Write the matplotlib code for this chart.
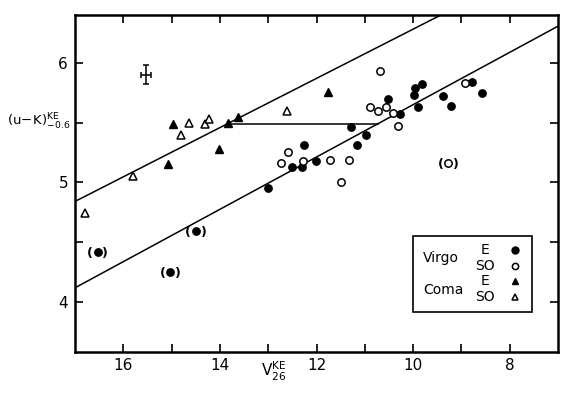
import matplotlib
matplotlib.use("Agg")
import matplotlib.pyplot as plt
import numpy as np
from matplotlib.patches import Rectangle

plt.rcParams["font.family"] = ["DejaVu Sans"]
plt.rcParams["mathtext.default"] = "regular"

# Virgo ellipticals (filled circles)
virgo_e_v = [13.00, 12.51, 12.31, 12.25, 12.01, 11.29, 10.98, 11.16, 10.53,
             10.28, 9.97, 9.98, 9.81, 9.89, 9.39, 9.22, 8.78, 8.57]
virgo_e_c = [4.95, 5.13, 5.13, 5.31, 5.18, 5.46, 5.40, 5.31, 5.70,
             5.57, 5.79, 5.73, 5.82, 5.63, 5.72, 5.64, 5.84, 5.75]
# uncertain Virgo E, shown in parentheses
virgo_e_unc_v = [16.53, 14.50, 15.03]
virgo_e_unc_c = [4.42, 4.59, 4.25]

# Virgo S0 (open circles)
virgo_s0_v = [12.59, 12.73, 12.27, 11.73, 11.33, 11.49, 10.69, 10.89, 10.73,
              10.56, 10.41, 10.31, 8.93]
virgo_s0_c = [5.25, 5.16, 5.18, 5.19, 5.19, 5.00, 5.93, 5.63, 5.60,
              5.63, 5.58, 5.47, 5.83]
virgo_s0_unc_v = [9.27]
virgo_s0_unc_c = [5.16]

# Coma ellipticals (filled triangles) and S0 (open triangles)
coma_e_v = [11.76, 14.97, 13.83, 13.63, 14.01, 15.07]
coma_e_c = [5.76, 5.49, 5.50, 5.55, 5.28, 5.15]
coma_s0_v = [12.62, 14.63, 14.81, 14.30, 14.23, 15.80, 16.80]
coma_s0_c = [5.60, 5.50, 5.40, 5.49, 5.53, 5.05, 4.74]

# fitted relations  c = a + b * V
upper_a, upper_b = 8.342, -0.206
lower_a, lower_b = 7.840, -0.219
shift_c = 5.49  # horizontal connector between the two relations

# typical error bar
err_v, err_c = 15.53, 5.90
err_dv, err_dc = 0.11, 0.08

fig = plt.figure(figsize=(5.7, 3.95), dpi=100)
ax = fig.add_axes([0.1316, 0.1089, 0.8474, 0.853])

vv = np.linspace(17.0, 7.0, 50)
ax.plot(vv, upper_a + upper_b * vv, color="black", lw=1.1)
ax.plot(vv, lower_a + lower_b * vv, color="black", lw=1.1)
v1 = (shift_c - upper_a) / upper_b
v2 = (shift_c - lower_a) / lower_b
ax.plot([v1, v2], [shift_c, shift_c], color="black", lw=1.1)

ms = 5.3
ax.plot(virgo_e_v, virgo_e_c, "o", color="black", ms=ms)
ax.plot(virgo_e_unc_v, virgo_e_unc_c, "o", color="black", ms=ms)
ax.plot(virgo_s0_v, virgo_s0_c, "o", mfc="white", mec="black", mew=1.1, ms=ms)
ax.plot(virgo_s0_unc_v, virgo_s0_unc_c, "o", mfc="white", mec="black", mew=1.1, ms=ms)
ax.plot(coma_e_v, coma_e_c, "^", color="black", ms=ms + 0.5)
ax.plot(coma_s0_v, coma_s0_c, "^", mfc="white", mec="black", mew=1.1, ms=ms + 0.5)

# parentheses around uncertain points
for v, c in zip(virgo_e_unc_v + virgo_s0_unc_v, virgo_e_unc_c + virgo_s0_unc_c):
    ax.annotate("(", (v, c), xytext=(-5.5, -1.0), textcoords="offset points",
                ha="center", va="center", fontsize=9, fontweight="semibold")
    ax.annotate(")", (v, c), xytext=(5.5, -1.0), textcoords="offset points",
                ha="center", va="center", fontsize=9, fontweight="semibold")

ax.errorbar([err_v], [err_c], xerr=err_dv, yerr=err_dc, fmt="none",
            ecolor="black", elinewidth=1.1, capsize=2.5, capthick=1.1)

ax.set_xlim(17.0, 7.0)
ax.set_ylim(3.58, 6.40)
ax.set_xticks([16, 14, 12, 10, 8])
ax.set_xticklabels(["16", "14", "12", "10", "8"])
ax.set_xticks([15, 13, 11, 9], minor=True)
ax.set_yticks([4, 5, 6])
ax.set_yticklabels(["4", "5", "6"])
ax.set_yticks([4.5, 5.5], minor=True)
for which in ["major", "minor"]:
    ax.tick_params(which=which, direction="in", length=6, width=1.2,
                   top=True, right=True, labelsize=11)
ax.tick_params(axis="x", pad=4)
ax.tick_params(axis="y", pad=5)
for s in ax.spines.values():
    s.set_linewidth(1.8)

fig.text(70 / 570, 1 - 122 / 395, r"$(u\!-\!K)^{KE}_{-0.6}$", ha="right",
         va="center", fontsize=9.5)
fig.text(274 / 570, 1 - 371 / 395, r"$V^{KE}_{26}$", ha="center",
         va="center", fontsize=11)

# legend box
ax.add_patch(Rectangle((0.700, 0.120), 0.246, 0.224, transform=ax.transAxes,
                       fill=False, ec="black", lw=1.2))
ax.text(0.720, 0.279, "Virgo", transform=ax.transAxes, ha="left", va="center", fontsize=10)
ax.text(0.720, 0.184, "Coma", transform=ax.transAxes, ha="left", va="center", fontsize=10)
for yy, lab in [(0.303, "E"), (0.255, "SO"), (0.211, "E"), (0.163, "SO")]:
    ax.text(0.849, yy, lab, transform=ax.transAxes, ha="center", va="center", fontsize=10)
ax.plot([0.911], [0.303], "o", color="black", ms=5, transform=ax.transAxes)
ax.plot([0.911], [0.255], "o", mfc="white", mec="black", mew=1.1, ms=4.5, transform=ax.transAxes)
ax.plot([0.911], [0.211], "^", color="black", ms=5, transform=ax.transAxes)
ax.plot([0.911], [0.163], "^", mfc="white", mec="black", mew=1.1, ms=5, transform=ax.transAxes)

fig.savefig("out.png", dpi=100)
